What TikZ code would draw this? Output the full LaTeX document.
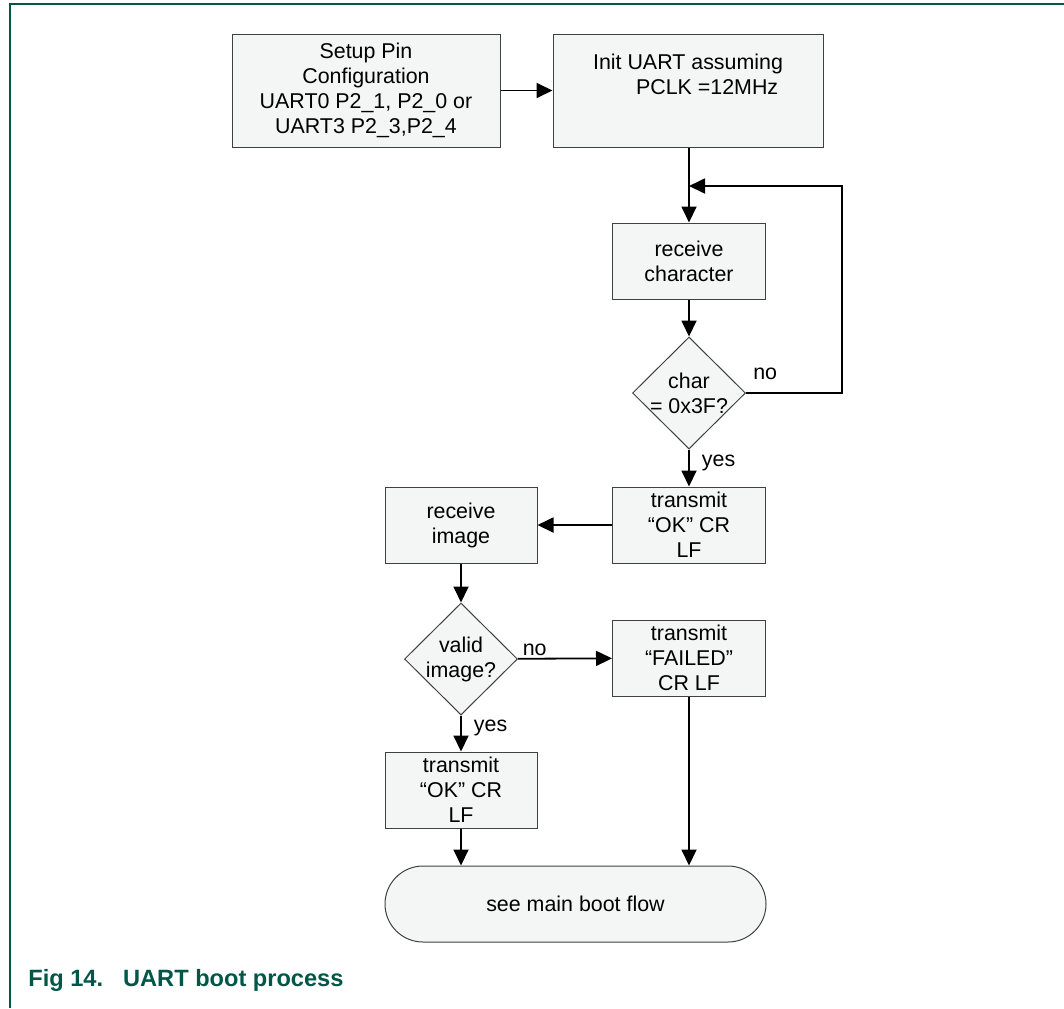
\documentclass[tikz,border=0pt]{standalone}
\usepackage{fontspec}
\setmainfont{Liberation Sans}
\usetikzlibrary{shapes.geometric, arrows.meta}
\definecolor{figgreen}{RGB}{0,87,72}
\definecolor{boxfill}{RGB}{244,246,245}
\begin{document}
\begin{tikzpicture}[x = .5pt, y = -.5pt,
        box/.style = {draw = black!75, fill = boxfill, line width = .5pt, inner sep = 0pt, align = center, font = \fontsize{10.7}{12.5}\selectfont},
        decision/.style = {box, diamond, inner sep = -1.2pt, minimum width = 56.5pt, minimum height = 56pt},
        flow/.style = {line width = .9pt, -{Triangle[length = 8pt, width = 7.5pt]}},
        lbl/.style = {font = \fontsize{10.7}{12.5}\selectfont, inner sep = 1pt}]
    \useasboundingbox (0, 0) rectangle (1064, 1008);
    \draw [figgreen, line width = 1pt] (10, 1008) -- (10, 4) -- (1064, 4);
    \node [box, minimum width = 134pt, minimum height = 56.5pt] (setup) at (366, 90.5) {Setup Pin\\Configuration\\UART0 P2\_1, P2\_0 or\\UART3 P2\_3,P2\_4};
    \node [box, minimum width = 135pt, minimum height = 56.5pt] (init) at (688, 90.5) {};
    \node [lbl, align = left, anchor = north, inner sep = 0pt] (initlbl) at (688, 54) {Init UART assuming\\\hspace*{21.5pt}PCLK =12MHz};
    \node [box, minimum width = 76.5pt, minimum height = 38pt] (recvchar) at (689, 261) {receive\\character};
    \node [decision] (ischar) at (689, 393) {char\\= 0x3F?};
    \node [box, minimum width = 76.5pt, minimum height = 38pt] (txok) at (689, 525) {transmit\\“OK” CR\\LF};
    \node [box, minimum width = 76pt, minimum height = 38pt] (recvimg) at (461, 525) {receive\\image};
    \node [decision] (isvalid) at (461, 659) {valid\\image?};
    \node [box, minimum width = 76.5pt, minimum height = 38pt] (txfail) at (689, 658) {transmit\\“FAILED”\\CR LF};
    \node [box, minimum width = 76pt, minimum height = 38pt] (txok2) at (461, 790) {transmit\\“OK” CR\\LF};
    \node [box, rounded corners = 19pt, minimum width = 190.5pt, minimum height = 38pt] (mainflow) at (575.5, 904) {see main boot flow};
    \coordinate (loopin) at (689, 186);
    \coordinate (loopout) at (842, 186);
    \draw [flow] (setup) -- (init);
    \draw [flow] (init.south -| recvchar) -- (recvchar);
    \draw [flow] (recvchar) -- (ischar);
    \draw [flow] (ischar.east) -- node [lbl, pos = .2, above = 5pt] {no} (ischar.east -| loopout) -- (loopout) -- (loopin);
    \draw [flow] (ischar) -- node [lbl, pos = .35, right = 5pt] {yes} (txok);
    \draw [flow] (txok) -- (recvimg);
    \draw [flow] (recvimg) -- (isvalid);
    \draw [flow] (isvalid) -- node [lbl, pos = .18, above] {no} (txfail);
    \draw [flow] (isvalid) -- node [lbl, pos = .35, right = 5pt] {yes} (txok2);
    \draw [flow] (txok2) -- (txok2 |- mainflow.north);
    \draw [flow] (txfail) -- (txfail |- mainflow.north);
    \node [anchor = base west, inner sep = 0pt, text = figgreen, font = \fontsize{11.8}{14}\selectfont\bfseries] (caption) at (28, 986) {Fig 14.\hspace{10pt}UART boot process};
\end{tikzpicture}
\end{document}
